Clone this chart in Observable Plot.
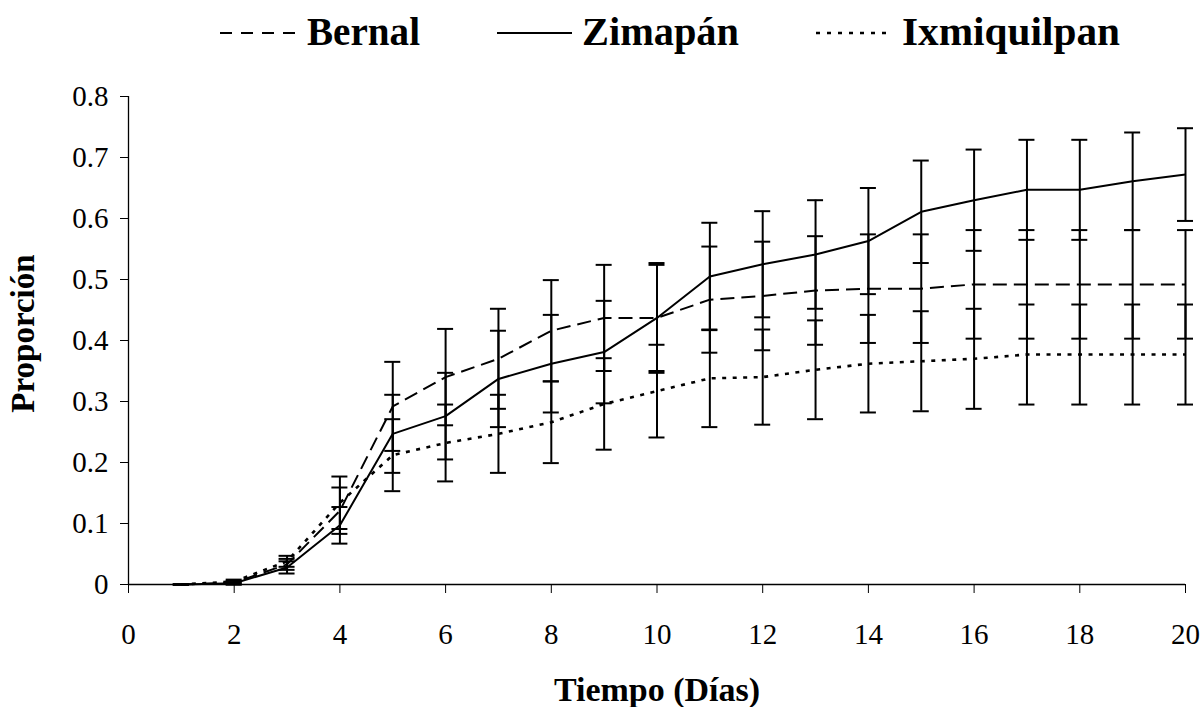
<!DOCTYPE html>
<html>
<head>
<meta charset="utf-8">
<script src="https://cdn.jsdelivr.net/npm/d3@7"></script>
<script src="https://cdn.jsdelivr.net/npm/@observablehq/plot@0.6"></script>
<style>
  body { margin: 0; background: #fff; }
  #wrap { width: 1204px; height: 707px; position: relative; overflow: hidden; font-family: "Liberation Serif", serif; background: #fff; }
  #wrap svg { display: block; }
</style>
</head>
<body>
<div id="wrap"></div>
<script>
// ---- Data ----
const days = [1, 2, 3, 4, 5, 6, 7, 8, 9, 10, 11, 12, 13, 14, 15, 16, 17, 18, 19, 20];

const bernalMean = [0, 0.003, 0.033, 0.121, 0.292, 0.340, 0.370, 0.416, 0.437, 0.437, 0.467, 0.473, 0.482, 0.485, 0.485, 0.492, 0.492, 0.492, 0.492, 0.492];
const bernalErr  = [0, 0.003, 0.009, 0.038, 0.073, 0.079, 0.082, 0.083, 0.087, 0.087, 0.087, 0.089, 0.089, 0.089, 0.089, 0.089, 0.089, 0.089, 0.089, 0.089];

const zimapanMean = [0, 0.002, 0.028, 0.097, 0.247, 0.276, 0.337, 0.362, 0.381, 0.437, 0.505, 0.525, 0.541, 0.563, 0.611, 0.630, 0.647, 0.647, 0.661, 0.672];
const zimapanErr  = [0, 0.002, 0.010, 0.030, 0.064, 0.071, 0.079, 0.080, 0.084, 0.090, 0.088, 0.087, 0.089, 0.087, 0.084, 0.083, 0.082, 0.082, 0.080, 0.076];

const ixmiqMean = [0, 0.005, 0.038, 0.134, 0.212, 0.232, 0.247, 0.266, 0.296, 0.317, 0.338, 0.340, 0.352, 0.362, 0.366, 0.370, 0.377, 0.377, 0.377, 0.377];
const ixmiqErr  = [0, 0.003, 0.009, 0.043, 0.059, 0.063, 0.064, 0.067, 0.075, 0.076, 0.080, 0.078, 0.081, 0.080, 0.082, 0.082, 0.082, 0.082, 0.082, 0.082];

const seriesNames = ["Bernal", "Zimapán", "Ixmiquilpan"];
const xTicks = [0, 2, 4, 6, 8, 10, 12, 14, 16, 18, 20];
const yTicks = [0, 0.1, 0.2, 0.3, 0.4, 0.5, 0.6, 0.7, 0.8];
const xTitle = "Tiempo (Días)";
const yTitle = "Proporción";

// ---- Styles per series ----
const styles = {
  "Bernal":      { dash: "14,7", width: 2 },
  "Zimapán":     { dash: null,   width: 2 },
  "Ixmiquilpan": { dash: "4,6.5", width: 2.6 }
};
const legendDash = { "Bernal": "12,9", "Zimapán": null, "Ixmiquilpan": "4,7" };

const seriesData = [
  { name: seriesNames[0], mean: bernalMean, err: bernalErr },
  { name: seriesNames[1], mean: zimapanMean, err: zimapanErr },
  { name: seriesNames[2], mean: ixmiqMean, err: ixmiqErr }
];

const rows = seriesData.flatMap(s => days.map((d, i) => ({
  series: s.name,
  day: d,
  value: s.mean[i],
  lo: Math.max(0, s.mean[i] - s.err[i]),
  hi: s.mean[i] + s.err[i]
})));

const wrap = document.getElementById("wrap");

// ---- Legend (above the plot) ----
const legendH = 80;
const legend = d3.create("svg").attr("width", 1204).attr("height", legendH)
  .attr("font-family", "'Liberation Serif', serif");
const legendItems = [
  { name: seriesNames[0], x1: 220, x2: 295, tx: 307, tw: 113 },
  { name: seriesNames[1], x1: 497, x2: 572, tx: 582, tw: 157 },
  { name: seriesNames[2], x1: 816, x2: 891, tx: 902, tw: 218 }
];
for (const it of legendItems) {
  const ln = legend.append("line")
    .attr("x1", it.x1).attr("x2", it.x2).attr("y1", 33).attr("y2", 33)
    .attr("stroke", "#000").attr("stroke-width", it.name === "Ixmiquilpan" ? 2.4 : 2);
  if (legendDash[it.name]) ln.attr("stroke-dasharray", legendDash[it.name]);
  legend.append("text")
    .attr("x", it.tx).attr("y", 45)
    .attr("font-size", 41).attr("font-weight", "bold").attr("fill", "#000")
    .attr("textLength", it.tw).attr("lengthAdjust", "spacingAndGlyphs")
    .text(it.name);
}
wrap.appendChild(legend.node());

// ---- Plot ----
const lineMarks = seriesNames.map(name => Plot.line(rows.filter(r => r.series === name), {
  x: "day", y: "value",
  stroke: "#000",
  strokeWidth: styles[name].width,
  strokeDasharray: styles[name].dash || undefined,
  strokeLinejoin: "miter",
  strokeLinecap: "butt"
}));

const chart = Plot.plot({
  width: 1204,
  height: 627,
  marginTop: 16,
  marginBottom: 123,
  marginLeft: 128,
  marginRight: 19,
  style: { fontFamily: "'Liberation Serif', serif", fontSize: "29px", color: "#000", background: "#fff", overflow: "visible" },
  x: { domain: [0, 20], ticks: xTicks, tickSize: 9, tickPadding: 30, label: null },
  y: { domain: [0, 0.8], ticks: yTicks, tickSize: 8, tickPadding: 12, label: null,
       tickFormat: d => d === 0 ? "0" : d3.format(".1f")(d) },
  marks: [
    Plot.ruleX(rows, { x: "day", y1: "lo", y2: "hi", stroke: "#000", strokeWidth: 2 }),
    Plot.ruleY(rows, { y: "hi", x1: "day", x2: "day", insetLeft: -8, insetRight: -8, stroke: "#000", strokeWidth: 2 }),
    Plot.ruleY(rows, { y: "lo", x1: "day", x2: "day", insetLeft: -8, insetRight: -8, stroke: "#000", strokeWidth: 2 }),
    ...lineMarks,
    Plot.ruleX([0], { stroke: "#000", strokeWidth: 1.3 }),
    Plot.ruleY([0], { stroke: "#000", strokeWidth: 1.3 }),
    Plot.text([xTitle], { text: d => d, frameAnchor: "bottom", dy: 116, lineAnchor: "bottom", textAnchor: "middle",
      fontWeight: "bold", fontSize: 34, fill: "#000" }),
    Plot.text([yTitle], { text: d => d, frameAnchor: "left", dx: -95, dy: -7, rotate: -90, lineAnchor: "bottom", textAnchor: "middle",
      fontWeight: "bold", fontSize: 33, fill: "#000" })
  ]
});
wrap.appendChild(chart);
</script>
</body>
</html>
